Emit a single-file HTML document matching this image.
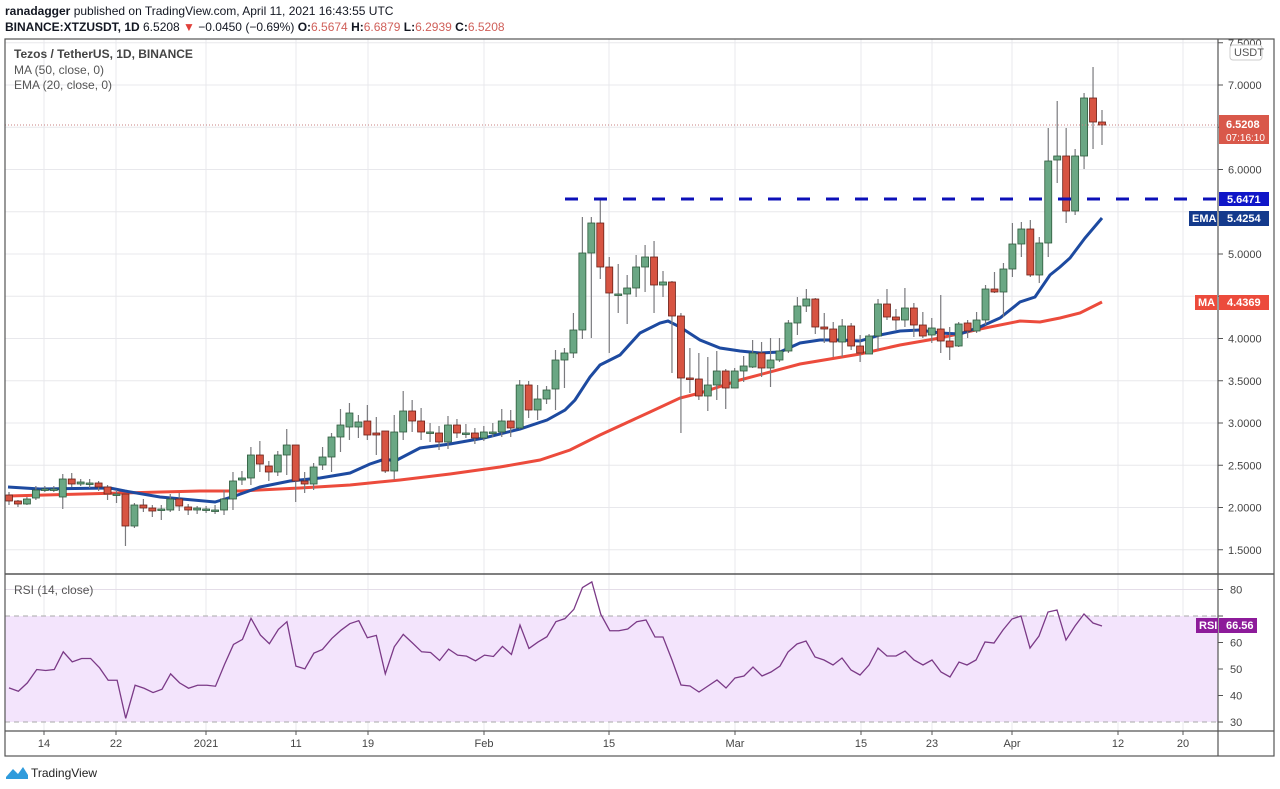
<!DOCTYPE html>
<html><head><meta charset="utf-8"><style>
html,body{margin:0;padding:0;background:#fff;width:1280px;height:789px;overflow:hidden}
svg{display:block}
text{font-family:"Liberation Sans",sans-serif}
</style></head><body>
<svg id="s" width="1280" height="789" xmlns="http://www.w3.org/2000/svg">
<rect width="1280" height="789" fill="#fff"/>
<text x="5" y="15" font-size="12" fill="#131722"><tspan font-weight="bold">ranadagger</tspan> published on TradingView.com, April 11, 2021 16:43:55 UTC</text>
<text x="5" y="31" font-size="12" fill="#131722"><tspan font-weight="bold">BINANCE:XTZUSDT, 1D</tspan> 6.5208 <tspan fill="#e0403a">▼</tspan> −0.0450 (−0.69%) <tspan font-weight="bold">O:</tspan><tspan fill="#d0605a">6.5674</tspan> <tspan font-weight="bold">H:</tspan><tspan fill="#d0605a">6.6879</tspan> <tspan font-weight="bold">L:</tspan><tspan fill="#d0605a">6.2939</tspan> <tspan font-weight="bold">C:</tspan><tspan fill="#d0605a">6.5208</tspan></text>
<g id="grid"></g>
<rect x="5" y="616" width="1213" height="106" fill="#f3e4fc"/>
<line x1="5" y1="616" x2="1218" y2="616" stroke="#aaa" stroke-dasharray="5,4"/>
<line x1="5" y1="722" x2="1218" y2="722" stroke="#aaa" stroke-dasharray="5,4"/>
<g id="plot"></g>
<line x1="5" y1="125" x2="1218" y2="125" stroke="#c98080" stroke-dasharray="1,2"/>
<line x1="565" y1="199" x2="1218" y2="199" stroke="#0c10b8" stroke-width="3" stroke-dasharray="13,16"/>
<text x="14" y="58" font-size="12" fill="#444" font-weight="bold">Tezos / TetherUS, 1D, BINANCE</text>
<text x="14" y="74" font-size="12" fill="#555">MA (50, close, 0)</text>
<text x="14" y="89" font-size="12" fill="#555">EMA (20, close, 0)</text>
<text x="14" y="594" font-size="12" fill="#555">RSI (14, close)</text>
<rect x="5" y="39" width="1269" height="717" fill="none" stroke="#555" stroke-width="1.2"/>
<line x1="1218" y1="39" x2="1218" y2="756" stroke="#555" stroke-width="1.2"/>
<line x1="5" y1="574" x2="1274" y2="574" stroke="#555" stroke-width="1.5"/>
<line x1="5" y1="731" x2="1274" y2="731" stroke="#555" stroke-width="1.2"/>
<g id="axis" font-size="11" fill="#444"></g>
<g font-size="11" font-weight="bold">
<rect x="1230" y="45" width="32" height="15" rx="3" fill="#fff" stroke="#ccc"/><text x="1234" y="56" fill="#555" font-weight="normal">USDT</text>
<rect x="1219" y="115" width="50" height="29" fill="#d9584a"/><text x="1226" y="128" fill="#fff">6.5208</text><text x="1226" y="141" fill="#fff" font-weight="normal" font-size="10">07:16:10</text>
<rect x="1219" y="192" width="50" height="14" fill="#1016c8"/><text x="1227" y="203" fill="#fff">5.6471</text>
<rect x="1219" y="211" width="50" height="15" fill="#143a8c"/><text x="1227" y="222" fill="#fff">5.4254</text>
<rect x="1189" y="211" width="28" height="15" fill="#143a8c"/><text x="1192" y="222" fill="#fff">EMA</text>
<rect x="1219" y="295" width="50" height="15" fill="#ec4b3c"/><text x="1227" y="306" fill="#fff">4.4369</text>
<rect x="1195" y="295" width="22" height="15" fill="#ec4b3c"/><text x="1198" y="306" fill="#fff">MA</text>
<rect x="1196" y="618" width="22" height="15" fill="#8d1b9a"/><text x="1199" y="629" fill="#fff">RSI</text>
<rect x="1219" y="618" width="38" height="15" fill="#8d1b9a"/><text x="1226" y="629" fill="#fff">66.56</text>
</g>
<g transform="translate(6,765)"><path d="M0 12 L7 4 L12 9 L17 2 L22 10 L22 14 L0 14Z" fill="#2f9bdc"/></g>
<text x="31" y="777" font-size="12" fill="#222">TradingView</text>
</svg>
<script>
var NS="http://www.w3.org/2000/svg";
function el(p,t,a,txt){var e=document.createElementNS(NS,t);for(var k in a)e.setAttribute(k,a[k]);if(txt!==undefined)e.textContent=txt;p.appendChild(e);return e;}
var grid=document.getElementById('grid'),plot=document.getElementById('plot'),ax=document.getElementById('axis');
var vx=[44,116,206,296,368,484,609,735,861,932,1012,1118,1183];
var vl=["14","22","2021","11","19","Feb","15","Mar","15","23","Apr","12","20"];
vx.forEach(function(x,i){el(grid,'line',{x1:x,y1:39,x2:x,y2:731,stroke:'#e8e8ec'});el(ax,'line',{x1:x,y1:731,x2:x,y2:735,stroke:'#555'});el(ax,'text',{x:x,y:747,'text-anchor':'middle'},vl[i]);});
for(var p=1.5;p<=7.51;p+=0.5){var y=85+(7-p)*84.5;el(grid,'line',{x1:5,y1:y,x2:1218,y2:y,stroke:'#e8e8ec'});el(ax,'line',{x1:1218,y1:y,x2:1223,y2:y,stroke:'#555'});if(p!=5.5&&p!=4.5)el(ax,'text',{x:1228,y:y+4},p.toFixed(4));}
[80,70,60,50,40,30].forEach(function(v){var y=616+(70-v)*2.65;if(v!=70&&v!=30)el(grid,'line',{x1:5,y1:y,x2:1218,y2:y,stroke:'#e4dde8'});el(ax,'line',{x1:1218,y1:y,x2:1223,y2:y,stroke:'#555'});if(v!=70)el(ax,'text',{x:1230,y:y+4},v);});
var C=[
[495,501,492,505],[501,504,500,507],[504,499,497,505],[498,490,486,500],[489,489,486,492],[489,489,486,492],[497,479,474,509],[479,484,473,487],[484,482,479,486],[483,483,479,488],[483,487,481,491],[487,494,485,500],[494,494,490,503],[494,526,494,546],[526,505,503,528],[505,508,499,512],[508,511,505,517],[510,509,505,520],[510,499,494,512],[499,506,493,511],[507,510,504,515],[510,508,506,514],[509,509,506,513],[510,510,505,514],[510,499,490,515],[499,481,472,510],[480,478,471,485],[478,455,447,485],[455,464,441,472],[466,472,461,481],[472,455,451,476],[455,445,429,475],[445,481,445,502],[481,484,472,493],[484,467,463,490],[465,457,447,470],[457,437,433,472],[437,425,409,452],[427,413,403,440],[427,422,415,438],[421,435,405,440],[433,435,417,455],[431,471,431,473],[471,432,415,480],[432,411,391,440],[411,421,400,432],[421,432,408,440],[432,432,423,442],[433,442,426,450],[442,425,416,449],[425,433,419,438],[433,433,424,438],[433,438,428,444],[438,432,426,441],[432,432,423,437],
[432,421,409,437],[421,428,410,437],[428,385,380,429],[385,410,381,418],[410,399,385,420],[399,390,386,404],[389,360,350,410],[360,353,348,388],[353,330,313,358],[330,253,217,339],[253,223,217,338],[223,267,198,279],[267,293,257,353],[294,294,264,313],[294,288,275,324],[288,267,255,297],[267,257,245,292],[257,285,241,313],[285,282,271,297],[282,316,281,373],[316,378,313,433],[378,379,348,393],[379,396,353,400],[396,385,357,411],[385,371,351,400],[371,388,369,409],[388,371,368,387],[371,366,356,382],[367,353,340,368],[353,368,342,377],[368,360,338,387],[360,351,338,362],[351,323,320,353],[323,306,297,335],[306,299,289,312],[299,327,298,334],[327,329,313,343],[329,342,322,357],[342,326,319,357],[326,346,323,350],[346,353,335,362],[354,336,334,350],[336,304,299,350],
[304,317,289,320],[317,320,309,330],[320,308,288,327],[308,325,303,337],[325,336,312,338],[335,328,318,343],[329,341,295,353],[341,347,327,360],[346,324,322,347],[323,331,320,338],[331,320,312,333],[320,289,285,325],[289,292,272,293],[292,269,263,317],[269,244,223,277],[244,229,222,257],[229,275,220,277],[275,243,237,283],[243,161,128,257],[160,156,101,183],[156,211,128,223],[211,156,149,215],[156,98,93,169],[98,122,67,149],[122,125,110,145]];
var n=C.length;
function X(i){return 9+i*(1093/(n-1));}
var ema=[[8,487],[40,489],[110,488],[125,491],[160,497],[215,502],[235,496],[260,487],[290,481],[320,478],[350,473],[370,464],[385,459],[395,461],[420,448],[450,444],[484,438],[520,429],[547,420],[565,410],[575,400],[590,377],[600,365],[620,355],[640,333],[660,323],[668,321],[680,327],[700,340],[720,348],[740,351],[760,353],[780,352],[800,343],[820,340],[840,340],[860,341],[880,335],[900,331],[920,330],[940,333],[960,334],[980,327],[1000,318],[1020,302],[1035,297],[1050,275],[1060,267],[1070,258],[1085,238],[1102,218]];
var ma=[[8,496],[120,493],[200,491],[240,491],[300,488],[350,485],[400,480],[450,474],[500,467],[540,460],[570,450],[600,435],[650,412],[680,398],[700,393],[740,380],[800,364],[860,354],[900,345],[940,338],[980,329],[1020,321],[1040,322],[1060,318],[1080,313],[1102,302]];
function pts(a){return a.map(function(p){return p[0]+','+p[1]}).join(' ');}
el(plot,'polyline',{points:pts(ma),fill:'none',stroke:'#ec4b3c','stroke-width':3});
el(plot,'polyline',{points:pts(ema),fill:'none',stroke:'#1d4aa0','stroke-width':3});
C.forEach(function(c,i){var x=X(i),up=c[1]<=c[0];
el(plot,'line',{x1:x,y1:c[2],x2:x,y2:c[3],stroke:'#7a7a7e','stroke-width':1.2});
var t=Math.min(c[0],c[1]),h=Math.max(Math.abs(c[1]-c[0]),1.5);
el(plot,'rect',{x:x-3.5,y:t,width:7,height:h,fill:up?'#6aa784':'#d75442',stroke:up?'#2d5a3c':'#6a2018','stroke-width':0.8});});
var rz=[[22,385],[45,395],[67,370],[90,330],[112,333],[133,330],[155,277],[177,307],[200,297],[222,297],[244,325],[265,362],[287,362],[308,476],[331,377],[353,386],[375,399],[397,389],[418,343],[440,370],[462,386],[484,377],[507,377],[528,380],[550,315],[572,255],[594,240],[615,177],[638,227],[660,253],[682,210],[703,187],[725,320],[747,328],[769,281],[790,270],[813,237],[836,212],[857,193],[879,184],[900,235],[922,228],[944,343],[966,262],[988,225],[1010,250],[1033,277],[1055,279],[1077,303],[1099,269],[1121,287],[1143,290],[1165,304],[1187,287],[1209,291],[1231,261],[1253,285],[1274,197],[1296,267],[1318,248],[1340,232],[1362,187],[1384,178],[1406,150],[1427,85],[1450,68],[1472,165],[1494,214],[1516,214],[1538,209],[1560,187]];
var rsi=rz.map(function(p){return [p[0]/2.45,616+(p[1]-170)/2.99];});
rsi=rsi.concat([[646,620],[655,637],[663,637],[672,660],[681,685],[690,686],[699,692],[708,686],[717,680],[726,688],[735,678],[744,676],[753,667],[762,676],[771,672],[780,666],[788,652],[797,644],[806,641],[815,657],[824,660],[833,665],[842,658],[851,670],[860,675],[869,665],[878,648],[887,656],[896,656],[905,651],[914,660],[923,665],[932,660],[941,672],[950,677],[959,662],[967,665],[976,660],[985,642],[994,643],[1003,630],[1012,619],[1021,616],[1030,648],[1039,636],[1048,612],[1057,610],[1066,640],[1075,626],[1084,614],[1093,623],[1102,626]]);
el(plot,'polyline',{points:pts(rsi),fill:'none',stroke:'#7b3a87','stroke-width':1.3});
</script>
</body></html>
